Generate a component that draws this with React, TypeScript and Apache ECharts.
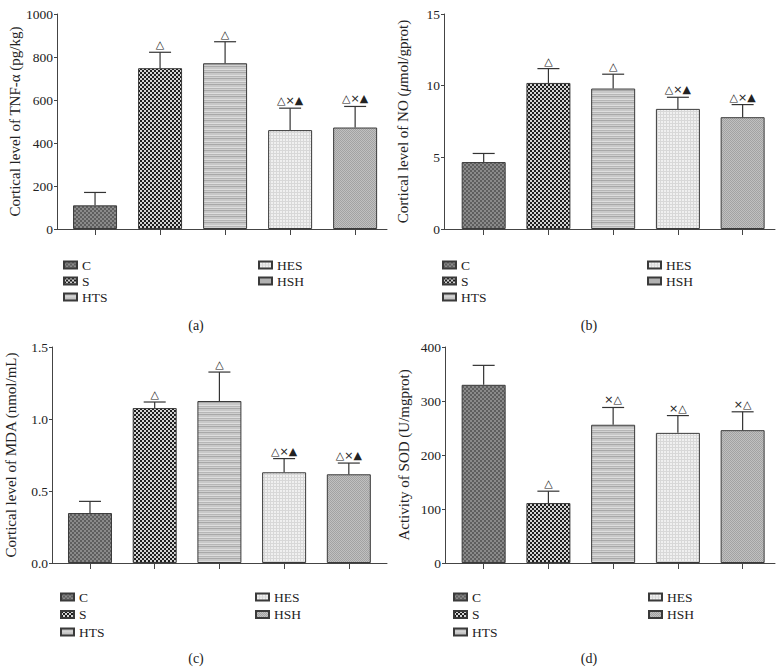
import React, { useEffect, useRef } from "react";
import * as echarts from "echarts";

const categories = ["C", "S", "HTS", "HES", "HSH"];

const tnfMean = [110, 748, 771, 460, 472];
const tnfUpper = [170, 822, 871, 562, 570];
const tnfMarks = ["", "△", "△", "△×▲", "△×▲"];

const noMean = [4.67, 10.19, 9.8, 8.38, 7.8];
const noUpper = [5.27, 11.19, 10.8, 9.19, 8.68];
const noMarks = ["", "△", "△", "△×▲", "△×▲"];

const mdaMean = [0.347, 1.076, 1.125, 0.63, 0.616];
const mdaUpper = [0.428, 1.118, 1.326, 0.725, 0.694];
const mdaMarks = ["", "△", "△", "△×▲", "△×▲"];

const sodMean = [330, 111, 256, 241, 246];
const sodUpper = [366, 133, 288, 273, 280];
const sodMarks = ["", "△", "×△", "×△", "×△"];

const tnfTicks = { min: 0, max: 1000, interval: 200 };
const noTicks = { min: 0, max: 15, interval: 5 };
const mdaTicks = { min: 0, max: 1.5, interval: 0.5 };
const sodTicks = { min: 0, max: 400, interval: 100 };

const captions = ["(a)", "(b)", "(c)", "(d)"];

const SERIF = "'Liberation Serif', 'Times New Roman', serif";
const FS = 13.5;
const NAME_FS = 15;

function makeTile(w: number, h: number, fn: (x: number, y: number) => string) {
  const c = document.createElement("canvas");
  c.width = w;
  c.height = h;
  const ctx = c.getContext("2d")!;
  for (let y = 0; y < h; y++) {
    for (let x = 0; x < w; x++) {
      ctx.fillStyle = fn(x, y);
      ctx.fillRect(x, y, 1, 1);
    }
  }
  return { image: c, repeat: "repeat", imageWidth: w, imageHeight: h } as any;
}

export default function App() {
  const ref = useRef<HTMLDivElement>(null);
  useEffect(() => {
    if (!ref.current) return;
    document.body.style.margin = "0";
    document.body.style.background = "#fff";
    const chart = echarts.init(ref.current, undefined, { renderer: "svg" });

    const patterns = [
      makeTile(4, 4, (x, y) => ((Math.floor(x / 2) + Math.floor(y / 2)) % 2 ? "#8a8a8a" : "#5e5e5e")),
      makeTile(4, 4, (x, y) => ((Math.floor(x / 2) + Math.floor(y / 2)) % 2 ? "#d4d4d4" : "#1e1e1e")),
      makeTile(1, 6, (x, y) => ["#a8a8a8", "#c8c8c8", "#c8c8c8", "#dedede", "#b6b6b6", "#d0d0d0"][y]),
      makeTile(3, 3, (x, y) => (x === 0 || y === 0 ? "#d8d8d8" : "#f0f0f0")),
      makeTile(2, 2, (x, y) => ((x + y) % 2 ? "#c0c0c0" : "#a2a2a2")),
    ];

    const panels = [
      { mean: tnfMean, upper: tnfUpper, marks: tnfMarks, ticks: tnfTicks, left: 57, top: 14, width: 330, height: 215, xmin: -0.585, xmax: 4.49, name: "Cortical level of TNF-α (pg/kg)", fmt: (v: number) => String(v), legendLeft: 63, legendRight: 258, legendTop: 257, gap: 0 },
      { mean: noMean, upper: noUpper, marks: noMarks, ticks: noTicks, left: 444, top: 14, width: 331, height: 215, xmin: -0.613, xmax: 4.5, name: "Cortical level of NO ({it|μ}mol/gprot)", fmt: (v: number) => String(v), legendLeft: 442, legendRight: 647, legendTop: 257, gap: 0 },
      { mean: mdaMean, upper: mdaUpper, marks: mdaMarks, ticks: mdaTicks, left: 52, top: 347, width: 335, height: 216, xmin: -0.587, xmax: 4.59, name: "Cortical level of MDA (nmol/mL)", fmt: (v: number) => v.toFixed(1), legendLeft: 60, legendRight: 255, legendTop: 589, gap: 1.5 },
      { mean: sodMean, upper: sodUpper, marks: sodMarks, ticks: sodTicks, left: 445, top: 347, width: 330, height: 216, xmin: -0.597, xmax: 4.5, name: "Activity of SOD (U/mgprot)", fmt: (v: number) => String(v), legendLeft: 453, legendRight: 648, legendTop: 589, gap: 1.5 },
    ];

    const grid: any[] = [];
    const xAxis: any[] = [];
    const yAxis: any[] = [];
    const series: any[] = [];
    const legend: any[] = [];

    const legendStyle = (p: any, names: string[], left: number) => ({
      data: names,
      left,
      top: p.legendTop,
      orient: "vertical",
      icon: "rect",
      itemWidth: 13,
      itemHeight: 7,
      itemGap: p.gap,
      selectedMode: false,
      padding: 0,
      textStyle: { fontFamily: SERIF, fontSize: FS, color: "#222", lineHeight: 16 },
    });

    panels.forEach((p, pi) => {
      grid.push({ left: p.left, top: p.top, width: p.width, height: p.height });
      xAxis.push({
        type: "value",
        gridIndex: pi,
        min: p.xmin,
        max: p.xmax,
        axisLine: { show: true, onZero: false, lineStyle: { color: "#444", width: 1 } },
        axisTick: { show: true, customValues: [0, 1, 2, 3, 4], length: 6, lineStyle: { color: "#444" } },
        axisLabel: { show: false },
        splitLine: { show: false },
      });
      yAxis.push({
        type: "value",
        gridIndex: pi,
        min: p.ticks.min,
        max: p.ticks.max,
        interval: p.ticks.interval,
        name: p.name,
        nameLocation: "middle",
        nameGap: 34,
        nameTextStyle: {
          fontFamily: SERIF,
          fontSize: NAME_FS,
          color: "#222",
          rich: { it: { fontFamily: SERIF, fontSize: NAME_FS, color: "#222", fontStyle: "italic" } },
        },
        axisLine: { show: true, onZero: false, lineStyle: { color: "#444", width: 1 } },
        axisTick: { show: true, length: 3, lineStyle: { color: "#444" } },
        axisLabel: { margin: 4, fontFamily: SERIF, fontSize: FS, color: "#222", formatter: p.fmt },
        splitLine: { show: false },
      });
      categories.forEach((c, ci) => {
        series.push({
          type: "bar",
          name: c,
          xAxisIndex: pi,
          yAxisIndex: pi,
          stack: "p" + pi,
          barWidth: 44,
          data: [[ci, p.mean[ci]]],
          itemStyle: { color: patterns[ci], borderColor: "#3a3a3a", borderWidth: 1 },
          z: 2,
        });
      });
      series.push({
        type: "custom",
        xAxisIndex: pi,
        yAxisIndex: pi,
        z: 5,
        encode: { x: 0, y: [1, 2] },
        data: categories.map((_, ci) => [ci, p.mean[ci], p.upper[ci]]),
        renderItem: (params: any, api: any) => {
          const x = api.value(0);
          const top = api.coord([x, api.value(1)]);
          const cap = api.coord([x, api.value(2)]);
          const mark = p.marks[params.dataIndex];
          return {
            type: "group",
            children: [
              { type: "line", shape: { x1: top[0], y1: top[1], x2: cap[0], y2: cap[1] }, style: { stroke: "#333", lineWidth: 1.2 } },
              { type: "line", shape: { x1: cap[0] - 11, y1: cap[1], x2: cap[0] + 11, y2: cap[1] }, style: { stroke: "#333", lineWidth: 1.2 } },
              {
                type: "text",
                x: cap[0],
                y: cap[1] - 2,
                style: { text: mark, textAlign: "center", textVerticalAlign: "bottom", font: "11px 'DejaVu Sans'", fill: "#222" },
              },
            ],
          };
        },
      });
      legend.push(legendStyle(p, ["C", "S", "HTS"], p.legendLeft));
      legend.push(legendStyle(p, ["HES", "HSH"], p.legendRight));
    });

    const capPos = [
      [196, 325],
      [589, 325],
      [196, 658],
      [589, 658],
    ];

    chart.setOption({
      animation: false,
      backgroundColor: "#fff",
      grid,
      xAxis,
      yAxis,
      legend,
      series,
      graphic: captions.map((t, i) => ({
        type: "text",
        x: capPos[i][0],
        y: capPos[i][1],
        style: { text: t, textAlign: "center", textVerticalAlign: "middle", font: "14px " + SERIF, fill: "#222" },
      })),
    });
    return () => chart.dispose();
  }, []);
  return <div ref={ref} style={{ position: "absolute", left: 0, top: 0, width: 784, height: 671 }} />;
}
